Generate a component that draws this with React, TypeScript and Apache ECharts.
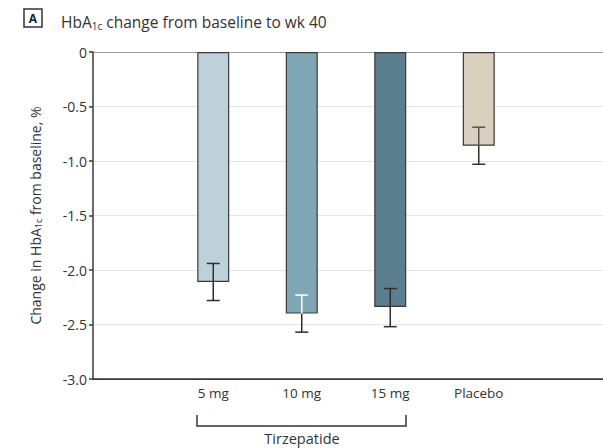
import React, { useEffect, useRef } from "react";
import * as echarts from "echarts";

const categories = ["5 mg", "10 mg", "15 mg", "Placebo"];
const means = [-2.11, -2.4, -2.34, -0.86];
const ciLow = [-2.28, -2.57, -2.52, -1.03];
const ciHigh = [-1.94, -2.23, -2.17, -0.69];
const barColors = ["#bed1da", "#80a7b5", "#5a7e8d", "#d9d0c0"];
const whiskerInner = ["#2f2f2f", "#ffffff", "#2f2f2f", "#555555"];
const yTicks = { min: -3, max: 0, interval: 0.5 };

const FONT = "'Open Sans', sans-serif";
const TXT = "#333";

export default function App() {
  const ref = useRef<HTMLDivElement>(null);
  useEffect(() => {
    if (!ref.current) return;
    const chart = echarts.init(ref.current, undefined, { renderer: "svg" });
    const option: any = {
      animation: false,
      backgroundColor: "#fff",
      textStyle: { fontFamily: FONT },
      title: {
        text: "{a|HbA}{s|1c}{a| change from baseline to wk 40}",
        left: 56,
        top: 8,
        textStyle: {
          fontWeight: "normal",
          rich: {
            a: { fontSize: 15.5, color: TXT, fontFamily: FONT, fontWeight: "normal", lineHeight: 18, verticalAlign: "middle" },
            s: { fontSize: 10, color: TXT, fontFamily: FONT, fontWeight: "normal", verticalAlign: "bottom", lineHeight: 10, padding: [7, 0, 0, 0] },
          },
        },
      },
      grid: [
        { left: 93, right: 0, top: 52, bottom: 69 },
        { left: 169, right: 80, top: 52, bottom: 69 },
      ],
      xAxis: [
        {
          gridIndex: 0,
          type: "value",
          min: 0,
          max: 1,
          axisLine: { show: true, onZero: false, lineStyle: { color: "#3a3a3a", width: 1.5 } },
          axisTick: { show: false },
          axisLabel: { show: false },
          splitLine: { show: false },
        },
        {
          gridIndex: 1,
          type: "category",
          data: categories,
          axisLine: { show: false },
          axisTick: { show: true, alignWithLabel: true, length: 4, lineStyle: { color: "#3a3a3a", width: 1.5 } },
          axisLabel: { color: TXT, fontSize: 13.5, margin: 7, fontFamily: FONT },
          splitLine: { show: false },
        },
      ],
      yAxis: [
        {
          gridIndex: 0,
          type: "value",
          min: yTicks.min,
          max: yTicks.max,
          interval: yTicks.interval,
          name: "{a|Change in HbA}{s|1c}{a| from baseline, %}",
          nameLocation: "middle",
          nameRotate: 90,
          nameGap: 50,
          nameTextStyle: {
            rich: {
              a: { fontSize: 14, color: TXT, fontFamily: FONT, lineHeight: 16, verticalAlign: "middle" },
              s: { fontSize: 9, color: TXT, fontFamily: FONT, verticalAlign: "bottom", lineHeight: 10, padding: [6, 0, 0, 0] },
            },
          },
          axisLine: { show: true, lineStyle: { color: "#3a3a3a", width: 1.5 } },
          axisTick: { show: true, length: 4, lineStyle: { color: "#3a3a3a", width: 1.5 } },
          axisLabel: {
            color: TXT,
            fontSize: 14,
            margin: 6,
            fontFamily: FONT,
            formatter: (v: number) => (v === 0 ? "0" : v.toFixed(1)),
          },
          splitLine: {
            show: true,
            lineStyle: {
              color: ["#3a3a3a", "#e4e4e4", "#e4e4e4", "#e4e4e4", "#e4e4e4", "#e4e4e4", "#9a9a9a"],
              width: 1.2,
            },
          },
        },
        {
          gridIndex: 1,
          type: "value",
          min: yTicks.min,
          max: yTicks.max,
          show: false,
          splitLine: { show: false },
        },
      ],
      series: [
        {
          type: "bar",
          xAxisIndex: 1,
          yAxisIndex: 1,
          barWidth: 32,
          data: means.map((v, i) => ({
            value: v,
            itemStyle: { color: barColors[i], borderColor: "#3a3a3a", borderWidth: 1.2 },
          })),
        },
        {
          type: "custom",
          xAxisIndex: 1,
          yAxisIndex: 1,
          z: 5,
          encode: { x: 0, y: [1, 2, 3] },
          data: means.map((m, i) => [i, m, ciLow[i], ciHigh[i]]),
          renderItem: (params: any, api: any) => {
            const i = api.value(0);
            const pM = api.coord([i, api.value(1)]);
            const pLo = api.coord([i, api.value(2)]);
            const pHi = api.coord([i, api.value(3)]);
            const x = pM[0];
            const hw = 6.5;
            const dark = "#2f2f2f";
            const inner = whiskerInner[params.dataIndex];
            return {
              type: "group",
              children: [
                { type: "line", shape: { x1: x, y1: pM[1], x2: x, y2: pLo[1] }, style: { stroke: dark, lineWidth: 1.5 } },
                { type: "line", shape: { x1: x - hw, y1: pLo[1], x2: x + hw, y2: pLo[1] }, style: { stroke: dark, lineWidth: 1.5 } },
                { type: "line", shape: { x1: x, y1: pM[1], x2: x, y2: pHi[1] }, style: { stroke: inner, lineWidth: 1.5 } },
                { type: "line", shape: { x1: x - hw, y1: pHi[1], x2: x + hw, y2: pHi[1] }, style: { stroke: inner, lineWidth: 1.5 } },
              ],
            };
          },
        },
      ],
      graphic: [
        { type: "rect", shape: { x: 24, y: 9, width: 18, height: 18 }, style: { fill: "#fff", stroke: "#333", lineWidth: 1.5 } },
        { type: "text", x: 33, y: 18, style: { text: "A", fill: "#222", font: `bold 12px ${FONT}`, textAlign: "center", textVerticalAlign: "middle" } },
        { type: "polyline", shape: { points: [[197, 415], [197, 426], [406, 426], [406, 415]] }, style: { stroke: "#333", lineWidth: 1.5, fill: "none" } },
        { type: "text", x: 302, y: 431, style: { text: "Tirzepatide", fill: TXT, font: `14.5px ${FONT}`, textAlign: "center", textVerticalAlign: "top" } },
      ],
    };
    chart.setOption(option);
    return () => chart.dispose();
  }, []);
  return <div ref={ref} style={{ position: "fixed", left: 0, top: 0, width: 603, height: 448 }} />;
}
